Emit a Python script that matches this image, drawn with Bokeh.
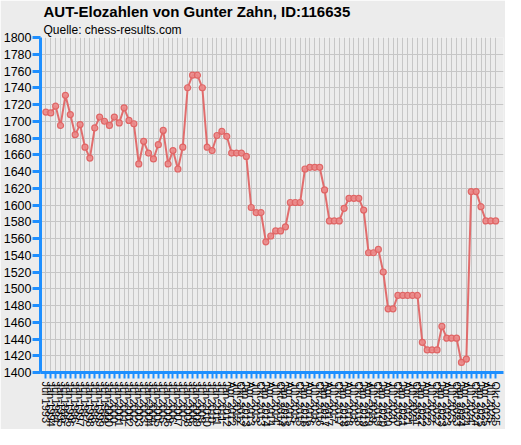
import math
from bokeh.plotting import figure
from bokeh.models import FixedTicker, Range1d, Title, ColumnDataSource
from bokeh.embed import file_html
from bokeh.resources import INLINE

dates = [
    "Jul 1993", "Jan 1994", "Jul 1994", "Jan 1995", "Jul 1995", "Jan 1996", "Jul 1996",
    "Jan 1997", "Jul 1997", "Jan 1998", "Jul 1998", "Jan 1999", "Jul 1999", "Jan 2000",
    "Jul 2000", "Jan 2001", "Jul 2001", "Jan 2002", "Jul 2002", "Jan 2003", "Jul 2003",
    "Jan 2004", "Jul 2004", "Jan 2005", "Jul 2005", "Jan 2006", "Jul 2006", "Jan 2007",
    "Jul 2007", "Jan 2008", "Jul 2008", "Jan 2009", "Jul 2009", "Jan 2010", "Jul 2010",
    "Jan 2011", "Jul 2011",
    "Jan 2012", "Apr 2012", "Jul 2012", "Okt 2012", "Jan 2013", "Apr 2013", "Jul 2013", "Okt 2013",
    "Jan 2014", "Apr 2014", "Jul 2014", "Okt 2014", "Jan 2015", "Apr 2015", "Jul 2015", "Okt 2015",
    "Jan 2016", "Apr 2016", "Jul 2016", "Okt 2016", "Jan 2017", "Apr 2017", "Jul 2017", "Okt 2017",
    "Jan 2018", "Apr 2018", "Jul 2018", "Okt 2018", "Jan 2019", "Apr 2019", "Jul 2019", "Okt 2019",
    "Jan 2020", "Apr 2020", "Jul 2020", "Okt 2020", "Jan 2021", "Apr 2021", "Jul 2021", "Okt 2021",
    "Jan 2022", "Apr 2022", "Jul 2022", "Okt 2022", "Jan 2023", "Apr 2023", "Jul 2023", "Okt 2023",
    "Jan 2024", "Apr 2024", "Jul 2024", "Okt 2024", "Jan 2025", "Apr 2025", "Jul 2025", "Okt 2025",
]

elo = [
    1711, 1710, 1718, 1695, 1731, 1708, 1684, 1696, 1669, 1656,
    1692, 1705, 1700, 1695, 1705, 1698, 1716, 1701, 1697, 1649,
    1676, 1662, 1655, 1672, 1689, 1649, 1665, 1643, 1669, 1740,
    1755, 1755, 1740, 1669, 1665, 1683, 1688, 1682, 1662, 1662,
    1662, 1658, 1597, 1591, 1591, 1556, 1563, 1569, 1569, 1574,
    1603, 1603, 1603, 1643, 1645, 1645, 1645, 1618, 1581, 1581,
    1581, 1596, 1608, 1608, 1608, 1594, 1543, 1543, 1547, 1520,
    1476, 1476, 1492, 1492, 1492, 1492, 1492, 1436, 1427, 1427,
    1427, 1455, 1441, 1441, 1441, 1412, 1416, 1616, 1616, 1598,
    1581, 1581, 1581,
]

y_ticks = list(range(1400, 1801, 20))

idx = list(range(len(elo)))
src = ColumnDataSource(data=dict(x=idx, y=elo, d=dates))

BG = "#ECECEC"
BLUE = "#1E8FFF"
FONT = "Liberation Sans"

p = figure(width=505, height=429, output_backend="svg", toolbar_location=None,
           x_range=Range1d(-1.1, len(elo) - 1 + 1.6), y_range=Range1d(1400, 1800),
           background_fill_color=BG, border_fill_color=BG,
           min_border_left=0, min_border_right=2, min_border_top=0, min_border_bottom=0)
p.outline_line_color = None

p.add_layout(Title(text="Quelle: chess-results.com", align="left", text_font=FONT,
                   text_font_size="12px", text_font_style="normal", text_color="#000000",
                   offset=3, standoff=2), "above")
p.add_layout(Title(text="AUT-Elozahlen von Gunter Zahn, ID:116635", align="left",
                   text_font=FONT, text_font_size="15px", text_font_style="bold",
                   text_color="#000000", offset=3, standoff=0), "above")

# grids
p.xgrid.ticker = FixedTicker(ticks=idx)
p.ygrid.ticker = FixedTicker(ticks=y_ticks)
for g in (p.xgrid, p.ygrid):
    g.grid_line_color = "#C6C6C6"
    g.grid_line_width = 1

# x axis
p.xaxis.ticker = FixedTicker(ticks=idx)
p.xaxis.major_label_overrides = {i: d for i, d in zip(idx, dates)}
p.xaxis.major_label_orientation = -math.pi / 2
p.xaxis.major_label_text_font = FONT
p.xaxis.major_label_text_font_size = "11px"
p.xaxis.major_label_text_color = "#000000"
p.xaxis.major_label_standoff = 3
p.xaxis.axis_line_color = BLUE
p.xaxis.axis_line_width = 3
p.xaxis.major_tick_line_color = BLUE
p.xaxis.major_tick_line_width = 2
p.xaxis.major_tick_out = 6
p.xaxis.major_tick_in = 0
p.xaxis.minor_tick_line_color = None

# y axis
p.yaxis.ticker = FixedTicker(ticks=y_ticks)
p.yaxis.major_label_text_font = FONT
p.yaxis.major_label_text_font_size = "12.5px"
p.yaxis.major_label_text_color = "#000000"
p.yaxis.major_label_standoff = 1
p.yaxis.axis_line_color = BLUE
p.yaxis.axis_line_width = 3
p.yaxis.major_tick_line_color = BLUE
p.yaxis.major_tick_line_width = 3
p.yaxis.major_tick_out = 8
p.yaxis.major_tick_in = 0
p.yaxis.minor_tick_line_color = None

p.line("x", "y", source=src, line_color="#E06666", line_width=2, line_alpha=0.95)
p.scatter("x", "y", source=src, size=6, marker="circle", fill_color="#EB8A8A",
          fill_alpha=0.9, line_color="#E06666", line_width=1.2)

open("out.html", "w").write(file_html(p, INLINE))
